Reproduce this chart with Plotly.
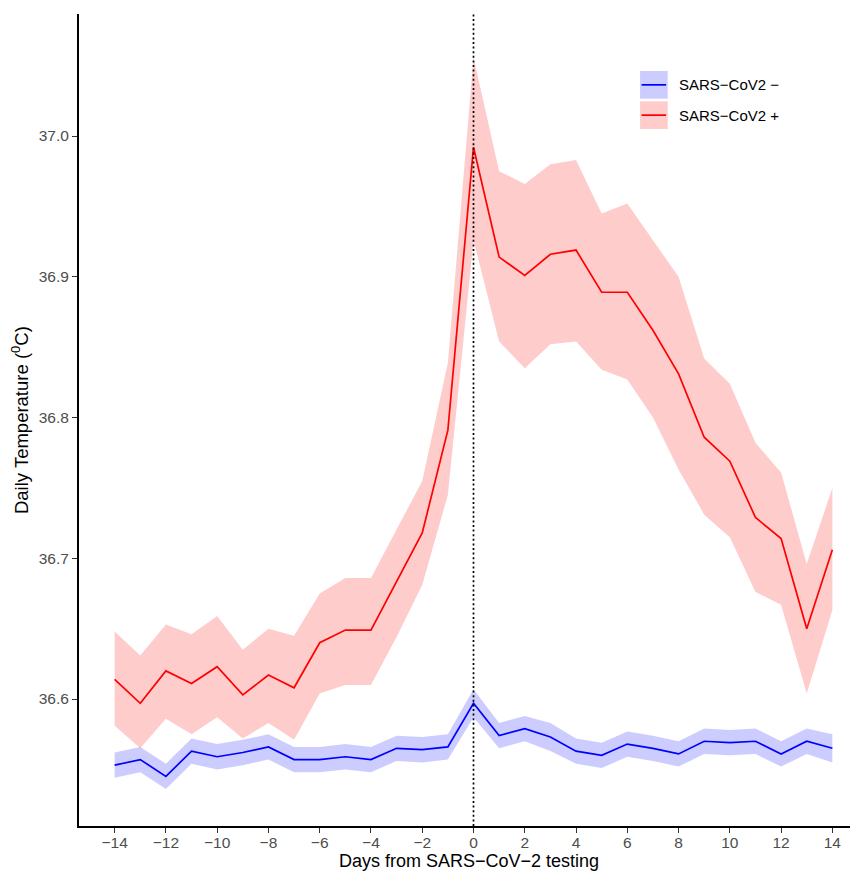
import plotly.graph_objects as go

days = list(range(-14, 15))

neg_mean = [36.553, 36.557, 36.545, 36.563, 36.559, 36.562, 36.566, 36.557, 36.557, 36.559,
            36.557, 36.565, 36.564, 36.566, 36.597, 36.574, 36.579, 36.573, 36.563, 36.560,
            36.568, 36.565, 36.561, 36.570, 36.569, 36.570, 36.561, 36.570, 36.565]
neg_upper = [36.562, 36.566, 36.554, 36.572, 36.568, 36.571, 36.575, 36.566, 36.566, 36.568,
             36.566, 36.574, 36.573, 36.575, 36.607, 36.583, 36.588, 36.583, 36.572, 36.569,
             36.577, 36.574, 36.570, 36.579, 36.578, 36.579, 36.570, 36.579, 36.575]
neg_lower = [36.544, 36.548, 36.536, 36.554, 36.550, 36.553, 36.557, 36.548, 36.548, 36.550,
             36.548, 36.556, 36.555, 36.557, 36.587, 36.565, 36.570, 36.563, 36.554, 36.551,
             36.559, 36.556, 36.552, 36.561, 36.560, 36.561, 36.552, 36.561, 36.555]

pos_mean = [36.614, 36.597, 36.620, 36.611, 36.623, 36.603, 36.617, 36.608, 36.640, 36.649,
            36.649, 36.683, 36.718, 36.791, 36.992, 36.914, 36.901, 36.916, 36.919, 36.889,
            36.889, 36.862, 36.831, 36.786, 36.769, 36.729, 36.714, 36.650, 36.706]
pos_upper = [36.648, 36.631, 36.653, 36.646, 36.659, 36.635, 36.650, 36.645, 36.675, 36.686,
             36.686, 36.720, 36.755, 36.839, 37.056, 36.975, 36.966, 36.980, 36.983, 36.945,
             36.952, 36.926, 36.900, 36.842, 36.824, 36.782, 36.761, 36.696, 36.750]
pos_lower = [36.581, 36.565, 36.586, 36.575, 36.587, 36.572, 36.583, 36.571, 36.604, 36.610,
             36.610, 36.644, 36.681, 36.745, 36.926, 36.854, 36.835, 36.852, 36.854, 36.834,
             36.827, 36.800, 36.763, 36.731, 36.715, 36.676, 36.667, 36.604, 36.663]

series_names = ["SARS\u2212CoV2 \u2212", "SARS\u2212CoV2 +"]
line_colors = ["#0000FF", "#FF0000"]
fill_colors = ["rgba(0,0,255,0.2)", "rgba(255,0,0,0.2)"]

x_ticks = list(range(-14, 15, 2))
y_ticks = [36.6, 36.7, 36.8, 36.9, 37.0]

x_title = "Days from SARS\u2212CoV\u22122 testing"
y_title = "Daily Temperature (<sup>0</sup>C)"

FONT = "Liberation Sans, Arial, Helvetica, sans-serif"

fig = go.Figure()

bands = [(neg_lower, neg_upper), (pos_lower, pos_upper)]
means = [neg_mean, pos_mean]

for (lo, hi), fc in zip(bands, fill_colors):
    fig.add_trace(go.Scatter(x=days, y=lo, mode="lines", line=dict(width=0),
                             showlegend=False, hoverinfo="skip"))
    fig.add_trace(go.Scatter(x=days, y=hi, mode="lines", line=dict(width=0),
                             fill="tonexty", fillcolor=fc, showlegend=False, hoverinfo="skip"))

for m, lc, nm in zip(means, line_colors, series_names):
    fig.add_trace(go.Scatter(x=days, y=m, mode="lines", name=nm,
                             line=dict(color=lc, width=1.7), showlegend=False))

# vertical dotted line at testing day
fig.add_vline(x=0, line=dict(color="black", width=1.7, dash="2px,2.6px"))

# manual legend (ggplot-style keys)
key_x0, key_x1 = 0.7202, 0.7557
key_rows = [(0.8957, 0.9298), (0.8584, 0.8925)]
for (y0, y1), fc, lc, nm in zip(key_rows, fill_colors, line_colors, series_names):
    fig.add_shape(type="rect", xref="paper", yref="paper", x0=key_x0, x1=key_x1,
                  y0=y0, y1=y1, fillcolor=fc, line=dict(width=0), layer="above")
    ym = (y0 + y1) / 2
    fig.add_shape(type="line", xref="paper", yref="paper", x0=key_x0 + 0.002, x1=key_x1 - 0.002,
                  y0=ym, y1=ym, line=dict(color=lc, width=1.7), layer="above")
    fig.add_annotation(xref="paper", yref="paper", x=0.7680, y=ym, text=nm,
                       showarrow=False, xanchor="left", yanchor="middle",
                       font=dict(family=FONT, size=15, color="black"))

# axis titles
fig.add_annotation(xref="paper", yref="paper", x=0.5, y=-0.0425, text=x_title,
                   showarrow=False, xanchor="center", yanchor="middle", borderpad=0,
                   font=dict(family=FONT, size=18, color="black"))
fig.add_annotation(xref="paper", yref="paper", x=-0.0757, y=0.5, text=y_title,
                   showarrow=False, xanchor="center", yanchor="middle", textangle=-90,
                   font=dict(family=FONT, size=18.5, color="black"))

# the page body adds an 8px margin, so the figure is 8px smaller than the window
fig.update_layout(
    width=850, height=864,
    margin=dict(l=71, r=0, t=6, b=46),
    paper_bgcolor="white", plot_bgcolor="white",
    font=dict(family=FONT),
    showlegend=False,
)

fig.update_xaxes(
    range=[-15.39, 15.0], tickvals=x_ticks, ticktext=[str(v).replace("-", "\u2212") for v in x_ticks],
    showgrid=False, zeroline=False, showline=True, linecolor="black", linewidth=2,
    ticks="outside", ticklen=5, tickcolor="#333333", tickwidth=1.2, automargin=False,
    ticklabelstandoff=-4,
    tickfont=dict(family=FONT, size=15.5, color="#4d4d4d"),
)
fig.update_yaxes(
    range=[36.5098, 37.0867], tickvals=y_ticks, ticktext=[f"{v:.1f}" for v in y_ticks],
    showgrid=False, zeroline=False, showline=True, linecolor="black", linewidth=2,
    ticks="outside", ticklen=5, tickcolor="#333333", tickwidth=1.2, automargin=False,
    tickfont=dict(family=FONT, size=15.5, color="#4d4d4d"),
)

fig.write_html("out.html")
